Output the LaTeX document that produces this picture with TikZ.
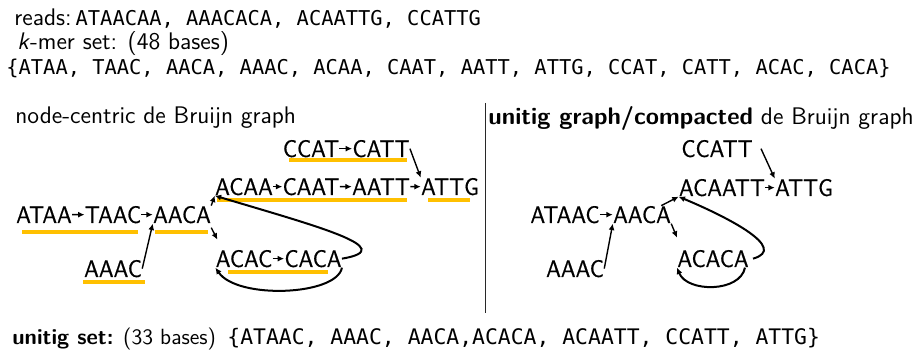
\documentclass[tikz,border=0pt]{standalone}
\usepackage{fontspec}
\setmonofont{DejaVu Sans Mono}
\newfontfamily\kmerfont{lmsans10-regular.otf}[FakeStretch=0.92, FakeBold=0.6]
\usetikzlibrary{arrows.meta, calc}
\definecolor{Readcol}{RGB}{255, 192, 0}
\definecolor{Sepcol}{RGB}{40, 40, 40}

\begin{document}
\begin{tikzpicture}[
    x=0.5pt, y=-0.5pt,
    every node/.style={inner sep=0pt},
    textline/.style={anchor=base west, font=\fontsize{12}{14}\selectfont\sffamily},
    setline/.style={anchor=base west, font=\fontsize{10.2}{12}\selectfont\ttfamily},
    kmerbox/.style={anchor=base, font=\fontsize{12}{14}\selectfont\kmerfont},
    arrowstyle/.style={
        -{Latex[length=3.2pt, width=3pt]},
        line width=0.7pt,
        color=black
    },
    loopstyle/.style={arrowstyle, line width=1pt},
    readline/.style={Readcol, line width=1.6pt}
]

    % Cornice
    \useasboundingbox (0,0) rectangle (915,356);

    % ------------------- TESTO IN ALTO -------------------
    \node[textline] (lReads) at (14,26) {reads:\,{\fontsize{10.2}{12}\selectfont\ttfamily ATAACAA, AAACACA, ACAATTG, CCATTG}};
    \node[textline] (lKmer) at (17,50) {\textit{k}-mer set: (48 bases)};
    \node[setline] (lKset) at (6,75) {\{ATAA, TAAC, AACA, AAAC, ACAA, CAAT, AATT, ATTG, CCAT, CATT, ACAC, CACA\}};

    % Titoli
    \node[textline] (lNodeTitle) at (15,124) {node-centric de Bruijn graph};
    \node[textline] (lUniTitle) at (488,125) {\textbf{unitig graph/compacted} de Bruijn graph};

    % Separatore
    \draw[Sepcol, line width=0.5pt] (485,103) -- (485,313);

    % ------------------- GRAFO NODE-CENTRIC -------------------

    % Letture (sottolineature)
    \draw[readline] (289,160) -- (407,160);
    \draw[readline] (217,200) -- (407,200);
    \draw[readline] (428,200) -- (470,200);
    \draw[readline] (22,232) -- (138,232);
    \draw[readline] (155,232) -- (208,232);
    \draw[readline] (228,272) -- (328,272);
    \draw[readline] (83,282) -- (145,282);

    % k-mer
    \node[kmerbox] (nCCAT) at (311,157) {CCAT};
    \node[kmerbox] (nCATT) at (381,157) {CATT};
    \node[kmerbox] (nACAA) at (244,195) {ACAA};
    \node[kmerbox] (nCAAT) at (311,195) {CAAT};
    \node[kmerbox] (nAATT) at (381,195) {AATT};
    \node[kmerbox] (nATTG) at (450,195) {ATTG};
    \node[kmerbox] (nATAA) at (44,223) {ATAA};
    \node[kmerbox] (nTAAC) at (113,223) {TAAC};
    \node[kmerbox] (nAACA) at (182,223) {AACA};
    \node[kmerbox] (nAAAC) at (113,277) {AAAC};
    \node[kmerbox] (nACAC) at (244,267) {ACAC};
    \node[kmerbox] (nCACA) at (313,267) {CACA};

    % Archi
    \draw[arrowstyle] (nCCAT) -- (nCATT);
    \draw[arrowstyle] (nACAA) -- (nCAAT);
    \draw[arrowstyle] (nCAAT) -- (nAATT);
    \draw[arrowstyle] (nAATT) -- (nATTG);
    \draw[arrowstyle] (nATAA) -- (nTAAC);
    \draw[arrowstyle] (nTAAC) -- (nAACA);
    \draw[arrowstyle] (nACAC) -- (nCACA);
    \draw[arrowstyle] (nCATT.east) -- (nATTG.north west);
    \draw[arrowstyle] (nAACA.north east) -- (nACAA.south west);
    \draw[arrowstyle] ([yshift=-2pt]nAACA.south east) -- ([xshift=1pt, yshift=5pt]nACAC.north west);
    \draw[arrowstyle] (nAAAC.east) -- (nAACA.south west);
    \draw[loopstyle] (nCACA.east) .. controls +(60,-10) and +(100,30) .. (nACAA.south west);
    \draw[loopstyle] (nCACA.south east) .. controls +(-5,28) and +(22,32) .. (nACAC.south west);

    % ------------------- GRAFO DEGLI UNITIG -------------------
    \node[kmerbox] (uCCATT) at (717,157) {CCATT};
    \node[kmerbox] (uACAATT) at (722,196) {ACAATT};
    \node[kmerbox] (uATTG) at (804,196) {ATTG};
    \node[kmerbox] (uATAAC) at (565,223) {ATAAC};
    \node[kmerbox] (uAACA) at (642,223) {AACA};
    \node[kmerbox] (uAAAC) at (575,277) {AAAC};
    \node[kmerbox] (uACACA) at (713,267) {ACACA};

    \draw[arrowstyle] (uATAAC) -- (uAACA);
    \draw[arrowstyle] (uACAATT) -- (uATTG);
    \draw[arrowstyle] ([xshift=4pt]uCCATT.east) -- (uATTG.north west);
    \draw[arrowstyle] ([xshift=-5pt]uAACA.north east) -- (uACAATT.south west);
    \draw[arrowstyle] (uAACA.south east) -- ([yshift=6pt]uACACA.north west);
    \draw[arrowstyle] (uAAAC.east) -- (uAACA.south west);
    \draw[loopstyle] ([xshift=2pt]uACACA.east) .. controls +(36,-10) and +(50,21) .. (uACAATT.south west);
    \draw[loopstyle] ([xshift=-2pt]uACACA.south east) .. controls +(-5,25) and +(10,25) .. (uACACA.south west);

    % ------------------- TESTO IN BASSO -------------------
    \node[textline, font=\fontsize{11}{13}\selectfont\sffamily] (lUnitigs) at (12,345) {\textbf{unitig set:} (33 bases)};
    \node[setline, font=\fontsize{10.7}{12}\selectfont\ttfamily] (lUset) at (227,345) {\{ATAAC, AAAC, AACA,ACACA, ACAATT, CCATT, ATTG\}};
\end{tikzpicture}
\end{document}
